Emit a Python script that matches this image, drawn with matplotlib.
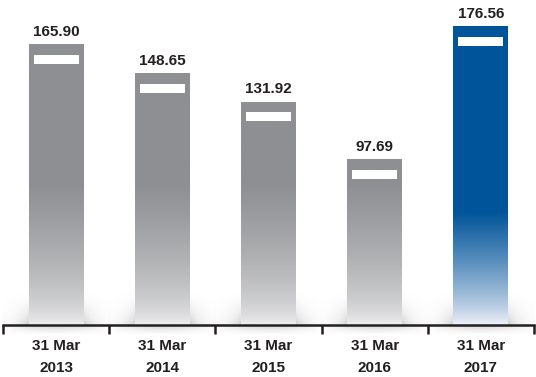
import numpy as np
import matplotlib.pyplot as plt
from matplotlib.patches import Rectangle
from matplotlib.colors import to_rgb

# values at 31 March of each year
years = ['2013', '2014', '2015', '2016', '2017']
values = [165.90, 148.65, 131.92, 97.69, 176.56]
tick_labels = [f'31 Mar\n{y}' for y in years]
bar_colors = ['#8e8f92', '#8e8f92', '#8e8f92', '#8e8f92', '#00549a']
fade_colors = ['#f5f5f6', '#f5f5f6', '#f5f5f6', '#f5f5f6', '#f2f3fa']
fade_from = [83, 83, 83, 83, 67]   # value below which the bar fades out
fade_pow = [0.55, 0.55, 0.55, 0.55, 0.8]

plt.rcParams['font.family'] = ['Liberation Sans', 'DejaVu Sans']
text_col = '#231f20'

W, H = 536, 377
fig = plt.figure(figsize=(W / 100, H / 100), dpi=100)
ax = fig.add_axes([0, 0, 1, 1])

# pixel scales so decorations can be sized in screen pixels
px_x = 106.2   # px per category
px_y = 1.69    # px per unit
base_y = 325
x0 = -0.5 - 3 / px_x
ax.set_xlim(x0, x0 + W / px_x)
ax.set_ylim(-(H - base_y) / px_y, base_y / px_y)

bw = 55 / px_x
n = len(values)

# soft shadows at the foot of each bar
sx = 26 / px_x
sh = 38 / px_y
for i in range(n):
    xs = np.linspace(i - bw / 2 - sx, i + bw / 2 + sx, 160)
    ys = np.linspace(0, sh, 60)
    X, Y = np.meshgrid(xs, ys)
    d = np.clip(np.abs(X - i) - bw / 2, 0, None) * px_x
    a = 0.33 * np.exp(-d / 11) * (1 - Y / sh) ** 2
    img = np.zeros(a.shape + (4,))
    img[..., :3] = (0.42, 0.42, 0.44)
    img[..., 3] = a
    ax.imshow(img, extent=[xs[0], xs[-1], 0, sh], origin='lower',
              aspect='auto', interpolation='bilinear', zorder=1)

# faint reflection under the axis line
for i in range(n):
    xs = np.linspace(i - 0.5, i + 0.5, 120)
    ys = np.linspace(-10 / px_y, -1 / px_y, 20)
    X, Y = np.meshgrid(xs, ys)
    a = 0.28 * (1 - (np.abs(X - i) / 0.5) ** 2) * ((Y - ys[0]) / (ys[-1] - ys[0])) ** 1.2
    img = np.zeros(a.shape + (4,))
    img[..., :3] = (0.5, 0.5, 0.52)
    img[..., 3] = a
    ax.imshow(img, extent=[xs[0], xs[-1], ys[0], ys[-1]], origin='lower',
              aspect='auto', interpolation='bilinear', zorder=1)

# gradient bars
for i, v in enumerate(values):
    top = np.array(to_rgb(bar_colors[i]))
    low = np.array(to_rgb(fade_colors[i]))
    ys = np.linspace(0, v, 300)
    t = np.clip(ys / fade_from[i], 0, 1) ** fade_pow[i]
    col = low[None, :] * (1 - t[:, None]) + top[None, :] * t[:, None]
    img = np.repeat(col[:, None, :], 2, axis=1)
    ax.imshow(img, extent=[i - bw / 2, i + bw / 2, 0, v], origin='lower',
              aspect='auto', interpolation='bilinear', zorder=2)
    # white highlight strip near the top
    ax.add_patch(Rectangle((i - bw / 2 + 5 / px_x, v - 19 / px_y),
                           bw - 10 / px_x, 9 / px_y,
                           facecolor='white', edgecolor='none', zorder=3))
    ax.text(i, v + 9 / px_y, f'{v:.2f}', ha='center', va='baseline',
            fontsize=11, fontweight='bold', color=text_col, zorder=4)

# axis line with boundary ticks
for s in ['top', 'left', 'right']:
    ax.spines[s].set_visible(False)
ax.spines['bottom'].set_position(('data', 0))
ax.spines['bottom'].set_bounds(-0.5, n - 0.5)
ax.spines['bottom'].set_linewidth(1.8)
ax.spines['bottom'].set_color(text_col)
ax.spines['bottom'].set_zorder(5)
ax.set_xticks(np.arange(n + 1) - 0.5)
ax.set_xticklabels([])
ax.tick_params(axis='x', which='major', direction='out', length=6.5,
               width=1.8, color=text_col)
ax.set_xticks(np.arange(n), minor=True)
ax.set_xticklabels(tick_labels, minor=True, fontsize=11, fontweight='bold',
                   color=text_col, linespacing=1.7)
ax.tick_params(axis='x', which='minor', length=0, pad=10)
ax.set_yticks([])
ax.patch.set_visible(False)

fig.savefig('out.png', dpi=100)
